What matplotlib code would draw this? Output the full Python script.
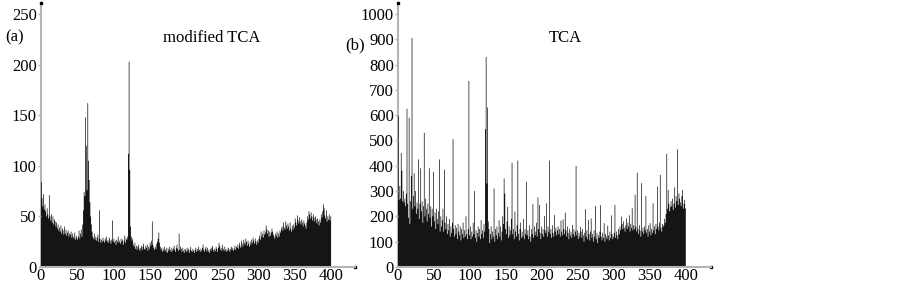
import matplotlib
matplotlib.use("Agg")
import matplotlib.pyplot as plt
import numpy as np

# values, one per bin (0..399)
modified_tca = [
    84, 68, 60, 72, 57, 62, 55, 50, 58, 52, 48, 71, 50, 46, 52, 44, 50, 42, 47, 45,
    40, 44, 38, 42, 36, 39, 35, 41, 33, 38, 36, 32, 40, 33, 37, 31, 34, 36, 30, 33,
    32, 35, 29, 33, 30, 28, 34, 27, 31, 29, 27, 30, 36, 28, 33, 37, 30, 42, 56, 74,
    70, 148, 120, 76, 162, 105, 86, 64, 50, 42, 35, 30, 28, 33, 27, 30, 26, 29, 32, 25,
    56, 28, 24, 27, 25, 29, 26, 24, 28, 26, 30, 25, 27, 24, 29, 26, 23, 27, 46, 25,
    28, 24, 26, 22, 27, 25, 30, 24, 26, 23, 28, 25, 27, 22, 26, 31, 24, 28, 27, 30,
    112, 203, 96, 40, 30, 26, 28, 22, 20, 24, 18, 21, 17, 20, 22, 18, 16, 19, 21, 17,
    20, 23, 18, 17, 21, 19, 22, 16, 20, 18, 24, 21, 26, 45, 22, 19, 17, 20, 18, 23,
    25, 28, 34, 24, 20, 17, 19, 15, 18, 16, 20, 17, 15, 19, 14, 18, 16, 20, 17, 15,
    19, 16, 18, 21, 17, 15, 19, 22, 18, 16, 33, 17, 20, 18, 15, 19, 16, 14, 18, 17,
    15, 19, 16, 18, 14, 17, 20, 16, 15, 18, 16, 14, 17, 19, 15, 18, 16, 20, 17, 15,
    18, 16, 19, 22, 17, 15, 18, 20, 16, 19, 15, 17, 14, 18, 16, 19, 21, 17, 15, 18,
    16, 20, 18, 15, 19, 24, 21, 17, 19, 16, 22, 18, 16, 20, 17, 15, 18, 16, 19, 17,
    15, 18, 20, 17, 19, 16, 18, 21, 17, 20, 19, 22, 18, 24, 21, 19, 26, 23, 20, 27,
    24, 22, 28, 25, 21, 26, 23, 20, 25, 22, 27, 24, 29, 26, 23, 28, 25, 22, 26, 24,
    28, 31, 27, 35, 30, 33, 29, 36, 32, 34, 41, 37, 33, 36, 30, 35, 31, 34, 38, 35,
    32, 30, 28, 33, 31, 35, 29, 33, 30, 36, 34, 38, 40, 36, 44, 39, 37, 45, 41, 38,
    43, 40, 36, 44, 38, 35, 41, 37, 42, 39, 48, 44, 41, 51, 46, 43, 49, 45, 42, 47,
    44, 40, 46, 43, 41, 38, 44, 50, 47, 55, 52, 48, 54, 50, 46, 52, 49, 45, 50, 47,
    43, 48, 45, 41, 47, 44, 52, 49, 55, 62, 58, 51, 48, 56, 45, 50, 47, 52, 46, 50,
]

tca = [
    600, 265, 320, 270, 450, 380, 260, 300, 255, 270, 240, 290, 625, 250, 195, 590, 170, 260, 360, 905,
    230, 280, 370, 240, 300, 210, 255, 230, 425, 190, 250, 390, 220, 260, 175, 240, 530, 200, 270, 230,
    180, 250, 210, 390, 195, 240, 160, 230, 200, 375, 180, 215, 150, 230, 190, 170, 220, 425, 140, 200,
    160, 185, 230, 140, 385, 175, 150, 200, 130, 170, 145, 190, 120, 160, 135, 175, 505, 150, 120, 165,
    130, 155, 110, 170, 140, 125, 160, 105, 150, 130, 175, 115, 145, 120, 200, 130, 110, 150, 735, 125,
    160, 110, 140, 120, 175, 130, 300, 115, 145, 100, 135, 160, 120, 150, 110, 185, 130, 145, 115, 170,
    140, 545, 830, 330, 630, 180, 150, 95, 130, 160, 110, 140, 120, 310, 100, 150, 125, 160, 110, 135,
    185, 120, 160, 105, 140, 200, 170, 350, 290, 150, 130, 180, 238, 115, 160, 125, 145, 190, 412, 130,
    150, 110, 219, 140, 120, 165, 420, 130, 105, 150, 175, 115, 140, 120, 190, 110, 150, 130, 337, 125,
    145, 110, 165, 120, 100, 150, 130, 248, 115, 160, 125, 140, 175, 120, 275, 150, 245, 135, 110, 160,
    130, 150, 120, 202, 145, 135, 252, 120, 160, 140, 420, 130, 150, 115, 165, 135, 120, 205, 140, 155,
    125, 145, 160, 130, 150, 120, 183, 140, 125, 188, 150, 130, 215, 145, 120, 160, 135, 110, 150, 125,
    140, 115, 166, 130, 150, 120, 140, 399, 125, 145, 110, 135, 120, 159, 140, 115, 150, 125, 100, 135,
    228, 120, 145, 110, 186, 130, 105, 140, 192, 115, 130, 100, 145, 120, 241, 110, 135, 95, 125, 115,
    140, 244, 120, 105, 135, 115, 173, 100, 130, 120, 110, 163, 125, 105, 140, 115, 204, 130, 110, 120,
    135, 245, 115, 140, 125, 110, 150, 130, 160, 145, 199, 170, 150, 180, 155, 140, 165, 192, 150, 175,
    160, 204, 140, 170, 155, 232, 145, 165, 150, 285, 160, 140, 373, 150, 130, 165, 145, 120, 331, 140,
    155, 130, 160, 145, 281, 135, 150, 120, 165, 140, 173, 125, 150, 135, 252, 145, 160, 130, 170, 150,
    317, 160, 145, 175, 364, 155, 140, 170, 159, 165, 190, 175, 210, 447, 230, 304, 250, 220, 238, 260,
    240, 270, 225, 250, 315, 235, 280, 260, 465, 245, 291, 270, 255, 240, 280, 304, 230, 250, 265, 232,
]

x_ticks = [0, 50, 100, 150, 200, 250, 300, 350, 400]
y_ticks_a = [0, 50, 100, 150, 200, 250]
y_ticks_b = [0, 100, 200, 300, 400, 500, 600, 700, 800, 900, 1000]

plt.rcParams["font.family"] = ["Liberation Serif", "DejaVu Serif"]

W, H = 903, 285
fig = plt.figure(figsize=(W / 100, H / 100), dpi=100)

AXIS_GREY = "#b4b4b4"
BAR = "#151515"


def panel(rect, values, xlim, ylim, yticks):
    ax = fig.add_axes(rect)
    # one filled step outline per panel: solid body, thin spikes come out grey
    edges = np.arange(len(values) + 1)
    ax.stairs(values, edges, fill=True, color=BAR, linewidth=0.6, snap=False)
    ax.set_xlim(0, xlim)
    ax.set_ylim(0, ylim)
    ax.set_xticks(x_ticks)
    ax.set_yticks(yticks)
    ax.tick_params(labelsize=12, length=2, width=1, color=AXIS_GREY, pad=1)
    ax.tick_params(axis="x", length=0, pad=1)
    for s in ("top", "right"):
        ax.spines[s].set_visible(False)
    ax.spines["left"].set_color(AXIS_GREY)
    ax.spines["bottom"].set_color(AXIS_GREY)
    ax.spines["left"].set_linewidth(1.5)
    ax.spines["bottom"].set_linewidth(1.5)
    ax.spines["left"].set_zorder(0.5)
    # little dots at the axis ends
    ax.plot([0], [1], "s", color="k", ms=2, transform=ax.transAxes, clip_on=False)
    ax.plot([1], [0], "s", color="k", ms=2, transform=ax.transAxes, clip_on=False)
    return ax


ax_a = panel([41 / W, 18 / H, 314 / W, 264 / H], modified_tca, 433, 261, y_ticks_a)
ax_b = panel([398 / W, 18 / H, 313 / W, 264 / H], tca, 435, 1043, y_ticks_b)

fig.text(5 / W, 1 - 37 / H, "(a)", fontsize=12, va="center", ha="left")
fig.text(212 / W, 1 - 38 / H, "modified TCA", fontsize=12, va="center", ha="center")
fig.text(345 / W, 1 - 45 / H, "(b)", fontsize=12, va="center", ha="left")
fig.text(565 / W, 1 - 38 / H, "TCA", fontsize=12, va="center", ha="center")

fig.savefig("out.png", dpi=100)
